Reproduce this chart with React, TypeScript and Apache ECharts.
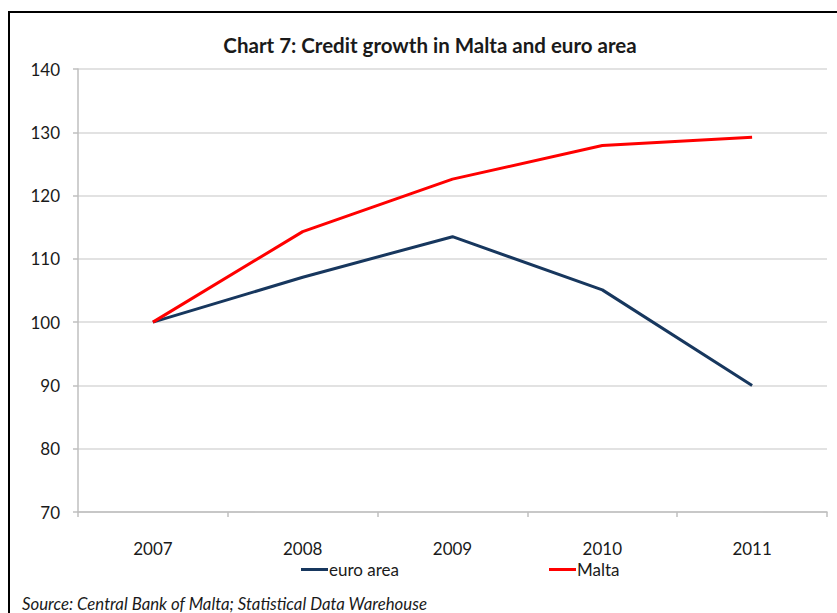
import React, { useEffect, useRef } from "react";
import * as echarts from "echarts";

const years = ["2007", "2008", "2009", "2010", "2011"];
const euroArea = [100, 107.1, 113.5, 105.1, 90.0];
const malta = [100, 114.3, 122.6, 127.9, 129.2];
const titleText = "Chart 7: Credit growth in Malta and euro area";
const sourceText = "Source: Central Bank of Malta; Statistical Data Warehouse";

const FONT = "Lato, 'Open Sans', sans-serif";

export default function App() {
  const ref = useRef<HTMLDivElement>(null);
  useEffect(() => {
    if (!ref.current) return;
    const chart = echarts.init(ref.current, null, { renderer: "svg" });
    chart.setOption({
      animation: false,
      backgroundColor: "#ffffff",
      textStyle: { fontFamily: FONT },
      grid: { left: 78, right: 10, top: 69, bottom: 101 },
      xAxis: {
        type: "category",
        data: years,
        boundaryGap: true,
        axisLine: { lineStyle: { color: "#bfbfbf", width: 1.5 } },
        axisTick: { show: true, length: 5, lineStyle: { color: "#bfbfbf", width: 1.5 } },
        axisLabel: { color: "#1a1a1a", fontSize: 17, lineHeight: 16, margin: 28, fontFamily: FONT },
      },
      yAxis: {
        type: "value",
        min: 70,
        max: 140,
        interval: 10,
        axisLine: { show: true, lineStyle: { color: "#bfbfbf", width: 1.5 } },
        axisTick: { show: true, length: 5, lineStyle: { color: "#bfbfbf", width: 1.5 } },
        axisLabel: { color: "#1a1a1a", fontSize: 17, margin: 18, fontFamily: FONT },
        splitLine: { lineStyle: { color: "#d9d9d9", width: 1.5 } },
      },
      legend: {
        left: 296,
        top: 556,
        itemWidth: 27,
        itemHeight: 3,
        itemGap: 150,
        icon: "rect",
        textStyle: { color: "#1a1a1a", fontSize: 17, lineHeight: 16, padding: [0, 0, 0, -4], fontFamily: FONT },
        data: ["euro area", "Malta"],
      },
      series: [
        {
          name: "euro area",
          type: "line",
          data: euroArea,
          symbol: "none",
          lineStyle: { color: "#17375e", width: 3 },
          itemStyle: { color: "#17375e" },
        },
        {
          name: "Malta",
          type: "line",
          data: malta,
          symbol: "none",
          lineStyle: { color: "#ff0000", width: 3 },
          itemStyle: { color: "#ff0000" },
        },
      ],
      graphic: [
        {
          type: "rect",
          shape: { x: 9, y: 12, width: 900, height: 700 },
          style: { fill: "none", stroke: "#000000", lineWidth: 2 },
          silent: true,
        },
        {
          type: "text",
          x: 430,
          y: 45,
          style: {
            text: titleText,
            font: `bold 20.5px ${FONT}`,
            fill: "#1a1a1a",
            textAlign: "center",
            textVerticalAlign: "middle",
          },
        },
        {
          type: "text",
          x: 22,
          y: 603,
          style: {
            text: sourceText,
            font: `italic 16.8px ${FONT}`,
            fill: "#1a1a1a",
            textAlign: "left",
            textVerticalAlign: "middle",
          },
        },
      ],
    });
    return () => chart.dispose();
  }, []);
  return (
    <div
      ref={ref}
      style={{ position: "absolute", left: 0, top: 0, width: 837, height: 613 }}
    />
  );
}
